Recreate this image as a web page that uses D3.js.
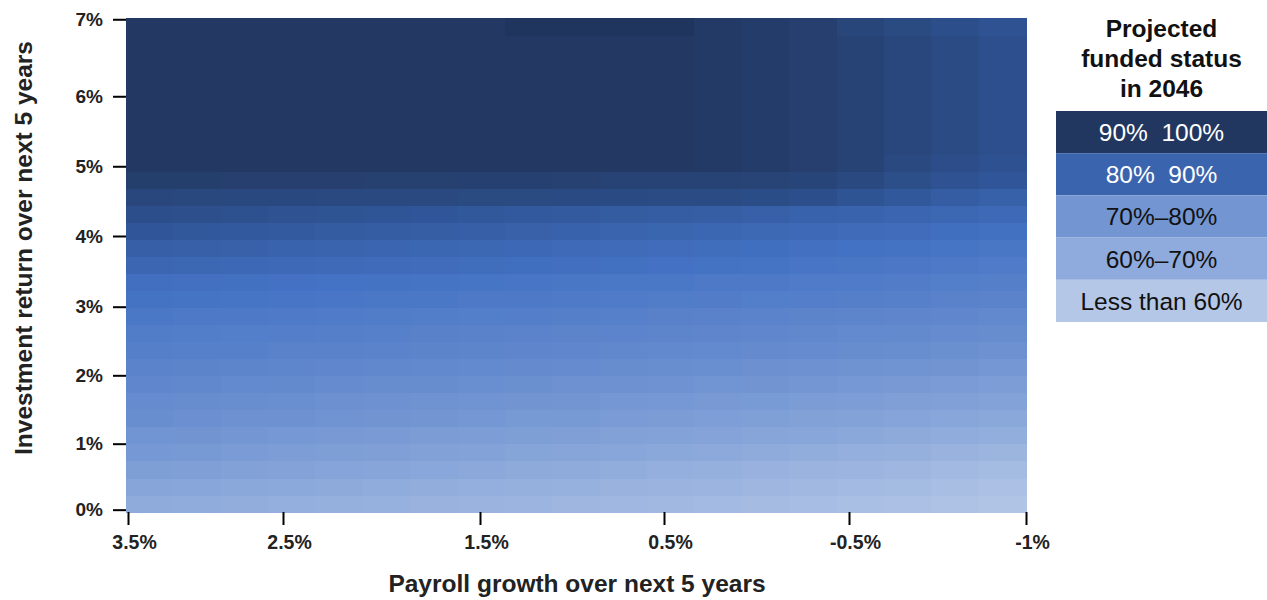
<!DOCTYPE html>
<html>
<head>
<meta charset="utf-8">
<script src="https://cdn.jsdelivr.net/npm/d3@7"></script>
<style>
  body { margin: 0; background: #fff; }
  svg { font-family: "Liberation Sans", Arial, sans-serif; }
  .tick line { stroke: #000; stroke-width: 2px; }
  .tick text { font-weight: bold; fill: #222; }
</style>
</head>
<body>
<div id="chart"></div>
<script>
// payroll growth over next 5 years (columns, left to right)
var payrollGrowth = [3.5, 3.25, 3.0, 2.75, 2.5, 2.25, 2.0, 1.75, 1.5, 1.25, 1.0, 0.75, 0.5, 0.25, 0.0, -0.25, -0.5, -0.75, -1.0];

// investment return over next 5 years (rows, bottom to top)
var investmentReturn = [0, 0.25, 0.5, 0.75, 1, 1.25, 1.5, 1.75, 2, 2.25, 2.5, 2.75, 3, 3.25, 3.5, 3.75,
                        4, 4.25, 4.5, 4.75, 5, 5.25, 5.5, 5.75, 6, 6.25, 6.5, 6.75, 7];

// projected funded status in 2046 (%), one row per investment return, estimated from the shading
var fundedStatus = [
  [60, 59.6, 59.1, 58.7, 58.2, 57.8, 57.3, 56.9, 56.4, 56.0, 55.5, 55.1, 54.6, 54.1, 53.5, 53.0, 52.4, 51.7, 51.0],
  [62, 61.5, 61.1, 60.6, 60.1, 59.6, 59.2, 58.7, 58.2, 57.7, 57.3, 56.8, 56.3, 55.7, 55.2, 54.6, 53.9, 53.3, 52.5],
  [64.5, 64.0, 63.5, 62.9, 62.4, 61.9, 61.4, 60.8, 60.3, 59.8, 59.3, 58.7, 58.2, 57.6, 56.9, 56.3, 55.6, 54.8, 54.0],
  [66.5, 66.0, 65.5, 65.0, 64.5, 64.0, 63.5, 63.0, 62.5, 62.0, 61.5, 61.0, 60.5, 59.9, 59.3, 58.7, 58.0, 57.3, 56.5],
  [68, 67.6, 67.1, 66.7, 66.2, 65.8, 65.3, 64.9, 64.4, 64.0, 63.5, 63.1, 62.6, 62.1, 61.5, 61.0, 60.4, 59.7, 59.0],
  [70, 69.6, 69.1, 68.7, 68.2, 67.8, 67.3, 66.9, 66.4, 66.0, 65.5, 65.1, 64.6, 64.1, 63.5, 63.0, 62.4, 61.7, 61.0],
  [71, 70.6, 70.2, 69.8, 69.4, 69.0, 68.6, 68.2, 67.8, 67.4, 67.0, 66.6, 66.2, 65.7, 65.2, 64.8, 64.2, 63.6, 63.0],
  [72.5, 72.1, 71.8, 71.4, 71.0, 70.6, 70.3, 69.9, 69.5, 69.1, 68.8, 68.4, 68.0, 67.6, 67.1, 66.7, 66.1, 65.6, 65.0],
  [74, 73.7, 73.3, 73.0, 72.6, 72.3, 71.9, 71.6, 71.2, 70.9, 70.5, 70.2, 69.8, 69.4, 69.0, 68.5, 68.1, 67.6, 67.0],
  [75.5, 75.2, 74.9, 74.5, 74.2, 73.9, 73.6, 73.2, 72.9, 72.6, 72.3, 71.9, 71.6, 71.2, 70.8, 70.4, 70.0, 69.5, 69.0],
  [76.5, 76.2, 75.9, 75.6, 75.3, 75.0, 74.7, 74.4, 74.1, 73.8, 73.5, 73.2, 72.9, 72.5, 72.2, 71.8, 71.4, 71.0, 70.5],
  [78, 77.7, 77.4, 77.1, 76.8, 76.5, 76.2, 75.9, 75.6, 75.3, 75.0, 74.7, 74.4, 74.0, 73.7, 73.3, 72.9, 72.5, 72.0],
  [79.7, 79.4, 79.1, 78.8, 78.6, 78.3, 78.0, 77.7, 77.4, 77.1, 76.9, 76.6, 76.3, 75.9, 75.6, 75.3, 74.9, 74.5, 74.0],
  [81, 80.7, 80.5, 80.2, 79.9, 79.6, 79.4, 79.1, 78.8, 78.5, 78.3, 78.0, 77.7, 77.4, 77.0, 76.7, 76.3, 75.9, 75.5],
  [84, 83.7, 83.3, 83.0, 82.6, 82.3, 81.9, 81.6, 81.2, 80.9, 80.5, 80.2, 79.8, 79.4, 79.0, 78.5, 78.1, 77.6, 77.0],
  [86.5, 86.1, 85.7, 85.3, 84.9, 84.5, 84.1, 83.7, 83.3, 82.9, 82.5, 82.1, 81.7, 81.2, 80.7, 80.3, 79.7, 79.1, 78.5],
  [89.5, 89.1, 88.6, 88.2, 87.7, 87.3, 86.8, 86.4, 85.9, 85.5, 85.0, 84.6, 84.1, 83.6, 83.0, 82.5, 81.9, 81.2, 80.5],
  [92.4, 91.9, 91.5, 91.0, 90.5, 90.1, 89.6, 89.1, 88.6, 88.2, 87.7, 87.2, 86.8, 86.2, 85.6, 85.1, 84.4, 83.8, 83.0],
  [95, 94.8, 94.6, 94.5, 94.4, 94.3, 94.2, 94.1, 94.0, 93.9, 93.8, 93.6, 93.4, 93.0, 92.4, 90.5, 88.8, 87.3, 86.0],
  [98, 98, 97.9, 97.8, 97.7, 97.6, 97.5, 97.4, 97.3, 97.0, 96.8, 96.6, 96.4, 96.2, 95.8, 94.2, 92.6, 91.0, 89.5],
  [100, 100, 100, 100, 100, 100, 100, 100, 100, 100, 100, 100, 99.5, 98.8, 97.8, 96.3, 94.2, 92.7, 91.2],
  [100, 100, 100, 100, 100, 100, 100, 100, 100, 100, 100, 100, 99.5, 98.8, 97.8, 96.3, 95.0, 93.5, 92.0],
  [100, 100, 100, 100, 100, 100, 100, 100, 100, 100, 100, 100, 99.5, 98.8, 97.8, 96.3, 95.0, 93.5, 92.0],
  [100, 100, 100, 100, 100, 100, 100, 100, 100, 100, 100, 100, 99.5, 98.8, 97.8, 96.3, 95.0, 93.5, 92.0],
  [100, 100, 100, 100, 100, 100, 100, 100, 100, 100, 100, 100, 99.5, 98.8, 97.8, 96.3, 95.0, 93.5, 92.0],
  [100, 100, 100, 100, 100, 100, 100, 100, 100, 100, 100, 100, 99.5, 98.8, 97.8, 96.3, 95.0, 93.5, 92.0],
  [100, 100, 100, 100, 100, 100, 100, 100, 100, 100, 100, 100, 99.5, 98.8, 97.8, 96.3, 95.0, 93.5, 92.0],
  [100, 100, 100, 100, 100, 100, 100, 100, 100, 100, 100, 100, 99.5, 98.8, 97.8, 96.3, 95.0, 93.5, 92.0],
  [100, 100, 100, 100, 100, 100, 100, 100, 101, 101, 101, 101, 99.5, 98.8, 97.8, 95.5, 94.0, 92.5, 91.0]
];

// axis tick labels and where the reference puts them (in axis units)
var xTickLabels = ["3.5%", "2.5%", "1.5%", "0.5%", "-0.5%", "-1%"];
var xTickAt = [3.49, 2.715, 1.73, 0.81, -0.115, -1.0];
var yTickLabels = ["0%", "1%", "2%", "3%", "4%", "5%", "6%", "7%"];
var yTickAt = [0.033, 0.968, 1.937, 2.909, 3.911, 4.899, 5.891, 6.982];

var legendTitle = ["Projected", "funded status", "in 2046"];
var legendLabels = ["90%  100%", "80%  90%", "70%\u201380%", "60%\u201370%", "Less than 60%"];

var legendFill = ["#22375f", "#3b64ae", "#7396d3", "#8faadc", "#b4c7e7"];
var legendText = ["#fff", "#fff", "#111", "#111", "#111"];

var W = 1267, H = 600;
var plot = {left: 126, right: 1026, top: 18, bottom: 512};

var svg = d3.select("#chart")
    .append("svg")
    .attr("width", W)
    .attr("height", H);

// scales
var xBand = d3.scaleBand().domain(payrollGrowth).range([plot.left, plot.right]);
var yBand = d3.scaleBand().domain(investmentReturn).range([plot.bottom, plot.top]);
var xLin = d3.scaleLinear().domain([3.5, -1]).range([plot.left, plot.right]);
var yLin = d3.scaleLinear().domain([0, 7]).range([plot.bottom, plot.top]);

var color = d3.scaleLinear()
    .domain([50, 80, 90, 100, 101])
    .range(["#b4c7e7", "#4472c4", "#2f5597", "#233963", "#20355e"])
    .clamp(true);

// cells
var cells = [];
fundedStatus.forEach(function(row, i) {
    row.forEach(function(v, j) {
        cells.push({r: investmentReturn[i], p: payrollGrowth[j], v: v});
    });
});

svg.append("g")
    .attr("id", "cells")
    .attr("shape-rendering", "crispEdges")
    .selectAll("rect")
    .data(cells)
    .enter()
    .append("rect")
    .attr("x", function(d) { return xBand(d.p); })
    .attr("y", function(d) { return yBand(d.r); })
    .attr("width", xBand.bandwidth() + 0.6)
    .attr("height", yBand.bandwidth() + 0.6)
    .attr("fill", function(d) { return color(d.v); });

// axes
var xAxis = d3.axisBottom(xLin)
    .tickValues(xTickAt)
    .tickFormat(function(d, i) { return xTickLabels[i]; })
    .tickSize(13)
    .tickPadding(10);

var gx = svg.append("g")
    .attr("id", "x-axis")
    .attr("transform", "translate(0," + plot.bottom + ")")
    .call(xAxis);
gx.select(".domain").remove();
gx.selectAll(".tick text")
    .attr("font-size", "19.5px")
    .attr("dx", 6);

var yAxis = d3.axisLeft(yLin)
    .tickValues(yTickAt)
    .tickFormat(function(d, i) { return yTickLabels[i]; })
    .tickSize(13)
    .tickPadding(10);

var gy = svg.append("g")
    .attr("id", "y-axis")
    .attr("transform", "translate(" + plot.left + ",0)")
    .call(yAxis);
gy.select(".domain").remove();
gy.selectAll(".tick text")
    .attr("font-size", "19px");

// axis titles
svg.append("text")
    .attr("x", 577)
    .attr("y", 592)
    .attr("text-anchor", "middle")
    .attr("font-size", "24.5px")
    .attr("font-weight", "bold")
    .attr("fill", "#222")
    .text("Payroll growth over next 5 years");

svg.append("text")
    .attr("transform", "translate(32,248) rotate(-90)")
    .attr("text-anchor", "middle")
    .attr("font-size", "24.5px")
    .attr("font-weight", "bold")
    .attr("fill", "#222")
    .text("Investment return over next 5 years");

// legend
var legend = svg.append("g").attr("id", "legend");
var legX = 1056, legW = 211;
var legY = d3.scaleBand().domain(legendLabels).range([111, 322]);

legend.selectAll("text.title")
    .data(legendTitle)
    .enter()
    .append("text")
    .attr("class", "title")
    .attr("x", legX + legW / 2)
    .attr("y", function(d, i) { return 37 + i * 30; })
    .attr("text-anchor", "middle")
    .attr("font-size", "24.5px")
    .attr("font-weight", "bold")
    .attr("fill", "#111")
    .text(function(d) { return d; });

legend.selectAll("rect")
    .data(legendLabels)
    .enter()
    .append("rect")
    .attr("x", legX)
    .attr("y", function(d) { return legY(d); })
    .attr("width", legW)
    .attr("height", legY.bandwidth())
    .attr("fill", function(d, i) { return legendFill[i]; });

legend.selectAll("text.item")
    .data(legendLabels)
    .enter()
    .append("text")
    .attr("class", "item")
    .attr("x", legX + legW / 2)
    .attr("y", function(d) { return legY(d) + legY.bandwidth() / 2; })
    .attr("dy", "0.36em")
    .attr("text-anchor", "middle")
    .attr("font-size", "24.5px")
    .attr("fill", function(d, i) { return legendText[i]; })
    .style("white-space", "pre")
    .text(function(d) { return d; });
</script>
</body>
</html>
